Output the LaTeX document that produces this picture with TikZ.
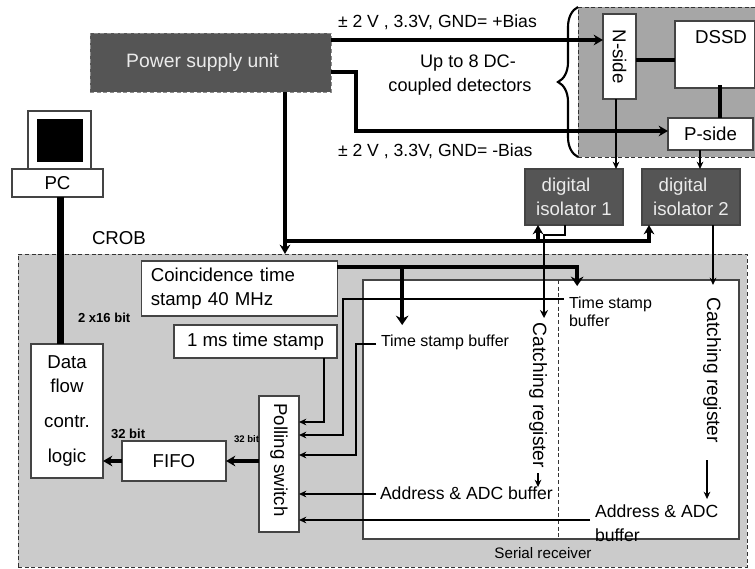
\documentclass[tikz,border=0pt]{standalone}
\usepackage{fontspec}
\setmainfont{Liberation Sans}
\usetikzlibrary{arrows.meta,positioning,decorations.pathreplacing}
\definecolor{darkbox}{HTML}{555555}
\definecolor{boxline}{HTML}{444444}
\definecolor{crobgrey}{HTML}{CBCBCB}
\definecolor{sidegrey}{HTML}{A6A6A6}
\tikzset{
    sized/.style 2 args={minimum width=#1*.75pt,minimum height=#2*.75pt},
    box/.style={draw=boxline,fill=white,line width=.9pt,inner sep=0pt,outer sep=0pt,font=\fontsize{14}{18}\selectfont,align=center},
    darkbox/.style={box,fill=darkbox,text=white!92!black},
    panel/.style={draw=black!80,densely dashed,line width=.6pt,inner sep=0pt,outer sep=0pt},
    txt/.style={inner sep=0pt,outer sep=0pt,font=\fontsize{13.2}{18}\selectfont,align=left},
    vert/.style={inner sep=0pt,outer sep=0pt,rotate=-90,font=\fontsize{14.4}{18}\selectfont},
    small/.style={inner sep=0pt,outer sep=0pt,font=\fontsize{12}{13.5}\selectfont,align=left},
    tiny bit/.style={inner sep=0pt,outer sep=0pt,font=\bfseries\fontsize{9.8}{11}\selectfont},
    wire/.style={line width=.9pt,>={Stealth[length=5.5pt,width=5pt]}},
    med/.style={line width=1.5pt,>={Stealth[length=6pt,width=6pt]}},
    bus/.style={line width=2.5pt,>={Stealth[length=7pt,width=8pt]}},
    heavy/.style={line width=3.1pt,>={Stealth[length=7pt,width=9.5pt]}},
    fat/.style={line width=5.2pt}
}
\begin{document}
\begin{tikzpicture}[x=.75pt,y=-.75pt]
    \useasboundingbox (0,0) rectangle (755,568);

    \node[panel,fill=sidegrey,sized={177}{150}] (detector panel) at (666.5,82) {};
    \node[panel,fill=crobgrey,sized={729}{313}] (crob) at (382.5,410.5) {};
    \node[draw=boxline,fill=white,line width=.9pt,outer sep=0pt,sized={376}{259}] (serial) at (551,409.5) {};
    \draw[panel] ([shift={(7,0)}]serial.north) -- ([shift={(7,0)}]serial.south);

    \node[darkbox,draw=white!55!black,densely dashed,line width=.5pt,sized={241}{59},font=\fontsize{14.5}{18}\selectfont] (power) at (210.5,62.5) {Power supply unit\hspace*{12pt}};

    \node[box,sized={85}{33},rotate=-90] (n side) at (619.5,56.5) {N-side};
    \node[box,sized={80}{67}] (dssd) at (715,54.5) {};
    \node[txt,font=\fontsize{14}{18}\selectfont] (dssd label) at (721,37) {DSSD};
    \node[box,sized={85}{32}] (p side) at (710.5,134) {P-side};

    \node[darkbox,sized={98}{56}] (iso 1) at (574,197) {digital\hspace*{12pt}\\isolator 1};
    \node[darkbox,sized={98}{56},right=14.25pt of iso 1] (iso 2) {digital\hspace*{12pt}\\isolator 2};

    % PC
    \node[box,sized={63}{58}] (monitor) at (59.5,140) {};
    \node[fill=black,inner sep=0pt,sized={46}{43}] (screen) at (60,140.5) {};
    \node[box,sized={91}{28},below=0pt of monitor,xshift=-1.5pt] (pc) {PC};

    \node[txt,anchor=west,font=\fontsize{14}{18}\selectfont] (crob label) at (92,238) {CROB};
    \node[box,sized={195}{55},text width=133pt,inner xsep=6.75pt,align=left] (coinc) at (239.5,288.5) {Coincidence time stamp 40 MHz};
    \node[box,sized={163}{33}] (one ms) at (255.5,341.5) {1 ms time stamp};
    \node[box,sized={72}{134}] (data) at (67,411) {Data\\flow\\[8pt]contr.\\[8pt]logic};
    \node[box,sized={104}{40}] (fifo) at (174,461) {FIFO};
    \node[box,sized={136}{40},rotate=-90] (polling) at (279,464) {\hspace*{-6pt}Polling switch};

    \node[tiny bit,anchor=west] (bit pc) at (78,318) {2 x16 bit};
    \node[tiny bit,anchor=west] (bit fifo) at (111,434) {32 bit};
    \node[tiny bit,anchor=west,font=\bfseries\fontsize{7.2}{9}\selectfont] (bit poll) at (234,439) {32 bit};

    \node[txt,anchor=west] (bias plus) at (338,22) {± 2 V , 3.3V, GND= +Bias};
    \node[txt,anchor=west] (bias minus) at (338,151) {± 2 V , 3.3V, GND= -Bias};
    \node[txt,align=center,font=\fontsize{13.6}{18}\selectfont] (detectors) at (460,75) {\hspace*{12pt}Up to 8 DC-\\coupled detectors};

    \node[small,anchor=west] (ts left) at (381,342) {Time stamp buffer};
    \node[small,anchor=west] (ts right) at (569,312) {Time stamp\\buffer};
    \node[txt,anchor=west] (addr left) at (380,493) {Address \& ADC buffer};
    \node[txt,anchor=west] (addr right) at (595,523) {Address \& ADC\\buffer};
    \node[small,font=\fontsize{11.4}{13}\selectfont] (serial label) at (543,553) {Serial receiver};
    \node[vert] (catch left) at (538,395.5) {Catching register};
    \node[vert] (catch right) at (712,370.5) {Catching register};

    \draw[line width=1.6pt,decorate,decoration={brace,amplitude=15pt}] (detector panel.south west) -- (detector panel.north west);

    % supply lines
    \draw[bus,->] ([shift={(0,-22.5)}]power.east) -- ([shift={(0,-16.5)}]n side.south);
    \draw[bus,->] ([shift={(0,9.5)}]power.east) -- ++(25,0) |- ([shift={(0,-3)}]p side.west);
    \draw[bus,->] ([shift={(74.5,0)}]power.south) -- ([shift={(74.5,0)}]power.south |- crob.north);
    \coordinate (bias bus) at ([shift={(74.5,149)}]power.south);
    \draw[bus,->] (bias bus) -| ([shift={(-42,0)}]iso 2.south);
    \draw[bus,->] ([shift={(-36,0)}]iso 1.south |- bias bus) -- ([shift={(-36,0)}]iso 1.south);

    % detector side
    \draw[bus] ([shift={(0,3.5)}]n side.north) -- ([shift={(0,5.5)}]dssd.west);
    \draw[heavy] ([shift={(5,-3)}]dssd.south) -- ([shift={(9.5,0)}]p side.north);
    \draw[wire,->] ([shift={(-3.5,0)}]n side.east) -- ([shift={(42,0)}]iso 1.north);
    \draw[wire,->] ([shift={(-10.5,0)}]p side.south) -- ([shift={(9,0)}]iso 2.north);
    \draw[med,->] ([shift={(-9,0)}]iso 1.south) -- ++(0,10) -- ++(-21,0) -- ++(0,83);
    \draw[wire,->] ([shift={(22,0)}]iso 2.south) -- ++(0,60);

    % time stamps
    \draw[heavy,->] ([shift={(0,-21.5)}]coinc.east) -- ++(240,0) -- ++(0,19);
    \draw[heavy,->] ([shift={(65,-21.5)}]coinc.east) -- ++(0,58);
    \draw[wire,->] ([shift={(68.5,0)}]one ms.south) -- ++(0,64) -- ([shift={(0,-42)}]polling.north);
    \draw[wire,->] ([shift={(-5,-13)}]ts right.west) -- ++(-221,0) -- ++(0,136) -- ([shift={(0,-29)}]polling.north);
    \draw[wire,->] ([shift={(-5,2)}]ts left.west) -- ++(-20,0) -- ++(0,111) -- ([shift={(0,-9)}]polling.north);
    \draw[wire,->] ([shift={(-4,1)}]addr left.west) -- ([shift={(0,30)}]polling.north);
    \draw[wire,->] ([shift={(-5,-3)}]addr right.west) -- ([shift={(0,56)}]polling.north);
    \draw[wire,->] ([shift={(0,5)}]catch left.east) -- ++(0,14);
    \draw[wire,->] ([shift={(-5,17)}]catch right.east) -- ++(0,39);

    % readout
    \draw[bus,->] (polling.south |- fifo) -- (fifo.east);
    \draw[bus,->] (fifo.west) -- (fifo.west -| data.east);
    \draw[fat] ([shift={(3,0)}]pc.south) -- ([shift={(3,0)}]pc.south |- data.north);
\end{tikzpicture}
\end{document}
